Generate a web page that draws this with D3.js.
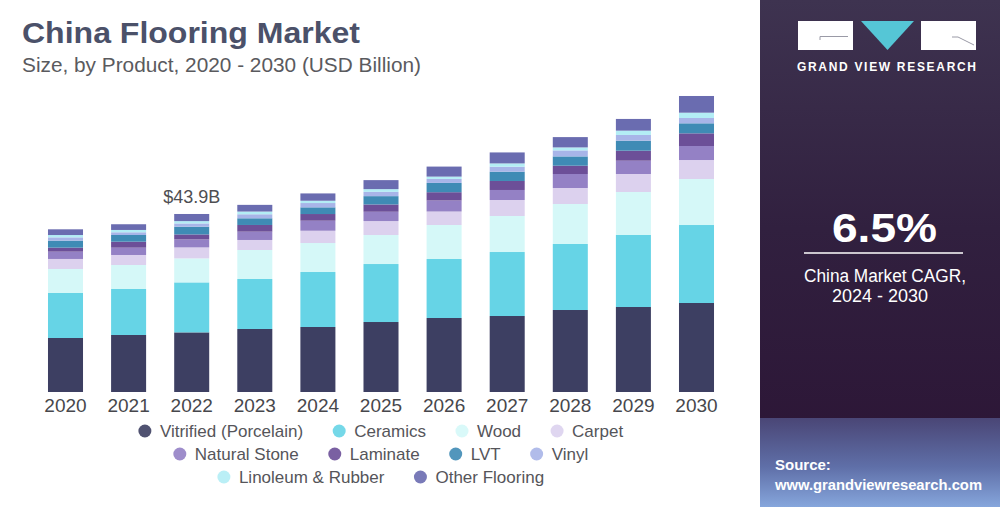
<!DOCTYPE html>
<html>
<head>
<meta charset="utf-8">
<script src="https://cdn.jsdelivr.net/npm/d3@7"></script>
<style>
  html, body { margin: 0; padding: 0; background: #ffffff; }
  svg { display: block; font-family: "Liberation Sans", Arial, sans-serif; }
</style>
</head>
<body>
<svg id="chart" width="1000" height="507"></svg>
<script>
// ---------- DATA (USD Billion) ----------
const years = ["2020","2021","2022","2023","2024","2025","2026","2027","2028","2029","2030"];

const vitrified     = [13.32, 14.06, 14.70, 15.54, 16.03, 17.26, 18.25, 18.74, 20.22, 20.96, 21.95];
const ceramics      = [11.10, 11.34, 12.33, 12.33, 13.56, 14.30, 14.55, 15.78, 16.28, 17.76, 19.23];
const wood          = [ 5.92,  5.92,  5.92,  7.15,  7.15,  7.15,  8.38,  8.88,  9.86, 10.60, 11.34];
const carpet        = [ 2.47,  2.47,  2.71,  2.47,  3.03,  3.45,  3.33,  3.95,  3.95,  4.44,  4.69];
const naturalStone  = [ 1.80,  1.80,  1.97,  2.05,  2.47,  2.29,  2.71,  2.47,  3.45,  3.28,  3.45];
const laminate      = [ 0.99,  1.48,  1.23,  1.65,  1.65,  1.80,  2.05,  2.22,  2.05,  2.47,  3.13];
const lvt           = [ 1.73,  1.65,  1.90,  1.65,  1.65,  2.05,  2.29,  2.29,  2.29,  2.47,  2.47];
const vinyl         = [ 0.81,  0.67,  0.81,  0.99,  1.06,  1.06,  0.99,  1.23,  1.48,  1.41,  1.31];
const linoleum      = [ 0.57,  0.57,  0.57,  0.67,  0.57,  0.67,  0.57,  0.81,  0.74,  1.06,  1.31];
const otherFlooring = [ 1.41,  1.41,  1.76,  1.65,  1.80,  2.22,  2.47,  2.71,  2.54,  2.89,  4.12];

const seriesNames = ["Vitrified (Porcelain)","Ceramics","Wood","Carpet","Natural Stone",
                     "Laminate","LVT","Vinyl","Linoleum & Rubber","Other Flooring"];
const seriesValues = [vitrified, ceramics, wood, carpet, naturalStone,
                      laminate, lvt, vinyl, linoleum, otherFlooring];

const annotatedYear = "2022";
const annotationText = "$43.9B";
const cagrText = "6.5%";

// ---------- STYLE ----------
const palette = ["#3d3f62","#66d4e6","#d5f8f8","#dcd1ee","#9481c5",
                 "#6c4f98","#3f8bb5","#a8b5e8","#b3edf5","#6a6cb0"];
const legendRows = [[0,1,2,3],[4,5,6,7],[8,9]];

// ---------- BUILD TABLE ----------
const table = years.map((y, i) => {
  const row = { year: y };
  seriesNames.forEach((s, k) => { row[s] = seriesValues[k][i]; });
  return row;
});
const stacked = d3.stack().keys(seriesNames)(table);

const svg = d3.select("#chart");

// ---------- SCALES ----------
const x = d3.scaleBand().domain(years).range([33.95, 728.05])
  .paddingInner(0.445).paddingOuter(0.2225);
const y = d3.scaleLinear().domain([0, 80]).range([392, 392 - 80 * 4.055]);
const color = d3.scaleOrdinal().domain(seriesNames).range(palette);

// ---------- TITLE ----------
svg.append("text").attr("x", 22).attr("y", 43)
  .attr("font-size", 29).attr("font-weight", 700).attr("fill", "#4b5169")
  .attr("textLength", 338).attr("lengthAdjust", "spacingAndGlyphs")
  .text("China Flooring Market");
svg.append("text").attr("x", 22).attr("y", 72)
  .attr("font-size", 20).attr("fill", "#5a5a5e")
  .attr("textLength", 399).attr("lengthAdjust", "spacingAndGlyphs")
  .text("Size, by Product, 2020 - 2030 (USD Billion)");

// ---------- BARS ----------
const g = svg.append("g");
g.selectAll("g.series").data(stacked).join("g")
  .attr("class", "series")
  .attr("fill", d => color(d.key))
  .selectAll("rect").data(d => d).join("rect")
  .attr("x", d => x(d.data.year))
  .attr("width", x.bandwidth())
  .attr("y", d => y(d[1]))
  .attr("height", d => y(d[0]) - y(d[1]));

// ---------- X AXIS ----------
const xAxis = svg.append("g").attr("transform", "translate(0,392)")
  .call(d3.axisBottom(x).tickSize(0).tickPadding(20));
xAxis.select(".domain").remove();
xAxis.selectAll("text")
  .attr("font-size", 19).attr("fill", "#47474c")
  .attr("font-family", "'Liberation Sans', Arial, sans-serif")
  .attr("dy", 0).attr("y", 20);

// ---------- ANNOTATION ----------
const annIdx = years.indexOf(annotatedYear);
const annTotal = d3.sum(seriesValues, s => s[annIdx]);
svg.append("text")
  .attr("x", x(annotatedYear) + x.bandwidth() / 2)
  .attr("y", y(annTotal) - 11)
  .attr("text-anchor", "middle")
  .attr("font-size", 18).attr("fill", "#4e4e52")
  .text(annotationText);

// ---------- LEGEND ----------
const legend = svg.append("g");
const legendY = [431, 454, 477];
legendRows.forEach((row, r) => {
  const rg = legend.append("g");
  let cursor = 0;
  row.forEach((idx, j) => {
    const item = rg.append("g");
    item.append("circle").attr("cx", cursor + 6).attr("cy", 0).attr("r", 6.5)
      .attr("fill", palette[idx]).attr("opacity", 0.9);
    const t = item.append("text").attr("x", cursor + 21).attr("y", 6)
      .attr("font-size", 17).attr("fill", "#55555a")
      .text(seriesNames[idx]);
    cursor += 21 + t.node().getComputedTextLength() + (j < row.length - 1 ? 30 : 0);
  });
  rg.attr("transform", `translate(${381 - cursor / 2},${legendY[r]})`);
});

// ---------- RIGHT PANEL ----------
const defs = svg.append("defs");
const pg = defs.append("linearGradient").attr("id", "panelGrad")
  .attr("x1", 0).attr("y1", 0).attr("x2", 0).attr("y2", 1);
pg.append("stop").attr("offset", "0%").attr("stop-color", "#3e3350");
pg.append("stop").attr("offset", "45%").attr("stop-color", "#31203f");
pg.append("stop").attr("offset", "100%").attr("stop-color", "#2b1334");
const bg = defs.append("linearGradient").attr("id", "bottomGrad")
  .attr("x1", 0).attr("y1", 0).attr("x2", 0).attr("y2", 1);
bg.append("stop").attr("offset", "0%").attr("stop-color", "#4a4676");
bg.append("stop").attr("offset", "55%").attr("stop-color", "#5f6fa8");
bg.append("stop").attr("offset", "100%").attr("stop-color", "#86a6dc");

svg.append("rect").attr("x", 760).attr("y", 0).attr("width", 240).attr("height", 507)
  .attr("fill", "url(#panelGrad)");
svg.append("rect").attr("x", 760).attr("y", 418).attr("width", 240).attr("height", 89)
  .attr("fill", "url(#bottomGrad)");

// logo
svg.append("rect").attr("x", 798).attr("y", 21).attr("width", 55).attr("height", 29).attr("fill", "#ffffff");
svg.append("path").attr("d", "M861,21 L914,21 L887.5,50 Z").attr("fill", "#55c6d6");
svg.append("rect").attr("x", 921).attr("y", 21).attr("width", 55).attr("height", 29).attr("fill", "#ffffff");
svg.append("path").attr("d", "M820,36.5 L848,36.5 M820,36.5 L820,40").attr("stroke", "#9a9aa6").attr("stroke-width", 1).attr("fill", "none");
svg.append("path").attr("d", "M958,37 L974,45 M958,37 L952,37").attr("stroke", "#9a9aa6").attr("stroke-width", 1).attr("fill", "none");
svg.append("text").attr("x", 797).attr("y", 71)
  .attr("font-size", 12).attr("font-weight", 700).attr("fill", "#ffffff")
  .attr("textLength", 179).attr("lengthAdjust", "spacing")
  .text("GRAND VIEW RESEARCH");

// CAGR
svg.append("text").attr("x", 884.5).attr("y", 242).attr("text-anchor", "middle")
  .attr("font-size", 41).attr("font-weight", 700).attr("fill", "#ffffff")
  .attr("textLength", 105).attr("lengthAdjust", "spacingAndGlyphs")
  .text(cagrText);
svg.append("line").attr("x1", 804).attr("x2", 963).attr("y1", 253).attr("y2", 253)
  .attr("stroke", "#ffffff").attr("stroke-width", 1.5);
svg.append("text").attr("x", 885).attr("y", 282).attr("text-anchor", "middle")
  .attr("font-size", 18).attr("fill", "#ffffff")
  .attr("textLength", 162).attr("lengthAdjust", "spacingAndGlyphs")
  .text("China Market CAGR,");
svg.append("text").attr("x", 880).attr("y", 302).attr("text-anchor", "middle")
  .attr("font-size", 18).attr("fill", "#ffffff")
  .text("2024 - 2030");

// source
svg.append("text").attr("x", 775).attr("y", 470)
  .attr("font-size", 15).attr("font-weight", 700).attr("fill", "#ffffff")
  .text("Source:");
svg.append("text").attr("x", 775).attr("y", 490)
  .attr("font-size", 15).attr("font-weight", 700).attr("fill", "#ffffff")
  .attr("textLength", 207).attr("lengthAdjust", "spacingAndGlyphs")
  .text("www.grandviewresearch.com");
</script>
</body>
</html>
